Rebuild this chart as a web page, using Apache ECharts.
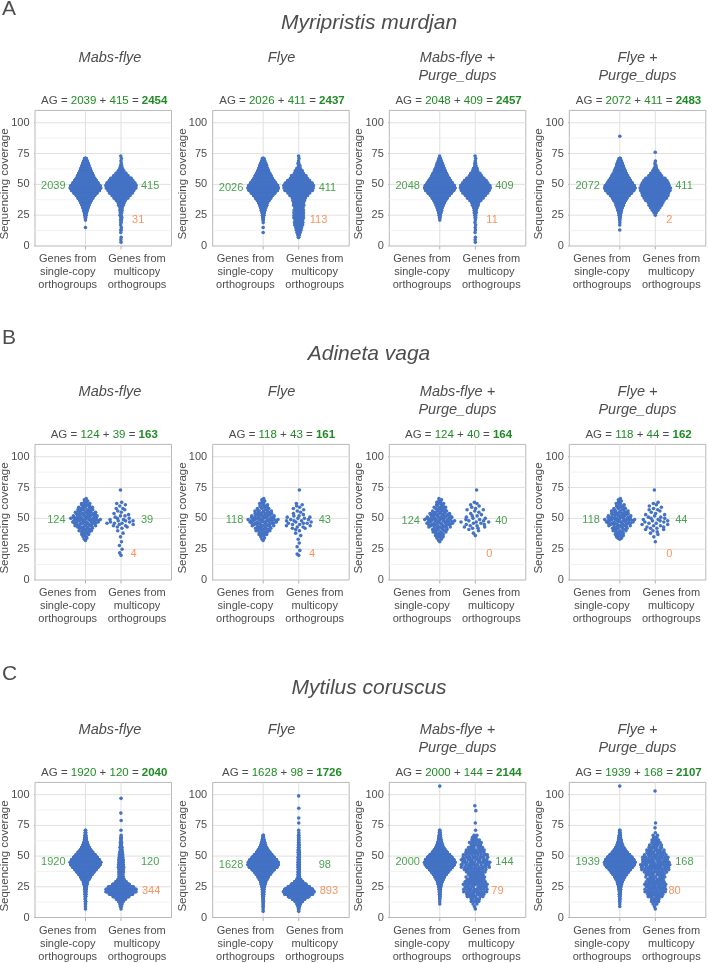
<!DOCTYPE html>
<html><head><meta charset="utf-8">
<script src="https://cdn.jsdelivr.net/npm/echarts@6.0.0/dist/echarts.min.js"></script>
<style>html,body{margin:0;padding:0;background:#fff}#c{width:708px;height:963px}</style>
</head><body><div id="c"></div><script>
// ---------------- data ----------------
const speciesNames = ['Myripristis murdjan', 'Adineta vaga', 'Mytilus coruscus'];
const sectionLetters = ['A', 'B', 'C'];
const assemblyNames = ['Mabs-flye', 'Flye', 'Mabs-flye +\nPurge_dups', 'Flye +\nPurge_dups'];
const groupNames = ['Genes from\nsingle-copy\northogroups', 'Genes from\nmulticopy\northogroups'];
const singleCopyN = [[2039, 2026, 2048, 2072], [124, 118, 124, 118], [1920, 1628, 2000, 1939]];
const multiCopyN = [[415, 411, 409, 411], [39, 43, 40, 44], [120, 98, 144, 168]];
const agTotals = [[2454, 2437, 2457, 2483], [163, 161, 164, 162], [2040, 1726, 2144, 2107]];
const lowCoverageN = [[31, 113, 11, 2], [4, 4, 0, 0], [344, 893, 79, 80]];
const yTickValues = [0, 25, 50, 75, 100];
const yMinorValues = [12.5, 37.5, 62.5, 87.5];
const groupPositions = [1, 2];

// coverage histograms: value of first bin, bin step, counts per bin, isolated points
const covA1s = { from: 15, step: 2, counts: [1,0,0,1,3,7,14,22,32,42,55,70,90,112,140,172,192,178,152,132,114,96,82,66,54,44,34,22,10], extra: [] };
const covA1m = { from: 3, step: 2, counts: [1,1,1,0,1,2,1,1,2,2,3,3,3,4,5,7,10,15,21,28,35,40,46,46,43,37,31,24,15,9,4,3,1,1,1,1], extra: [] };
const covA2s = { from: 11, step: 2, counts: [1,0,1,0,1,2,4,8,14,22,32,42,55,70,92,115,142,172,190,176,150,130,112,95,80,64,52,42,32,20,8], extra: [] };
const covA2m = { from: 7, step: 2, counts: [2,3,5,7,9,11,12,12,13,13,13,13,13,13,14,15,18,22,30,36,42,40,36,29,24,19,14,9,5,3,2,1,1,1], extra: [] };
const covA3s = { from: 21, step: 2, counts: [1,3,7,14,22,32,44,57,72,92,116,144,175,195,180,155,134,115,97,82,66,53,43,32,20,8,1], extra: [] };
const covA3m = { from: 3, step: 2, counts: [1,1,1,0,1,1,1,1,1,1,2,2,3,4,6,8,11,16,22,28,34,40,42,40,36,30,24,18,12,8,5,3,2,1,1,1], extra: [] };
const covA4s = { from: 13, step: 2, counts: [1,0,1,1,2,4,8,14,22,32,44,57,72,92,116,146,178,198,182,156,135,116,98,82,66,53,42,32,20,8], extra: [89] };
const covA4m = { from: 25, step: 2, counts: [1,4,9,13,17,19,25,31,33,36,39,40,38,34,32,25,18,12,7,4,2,1,1], extra: [76] };

const covB1s = { from: 32, step: 1, counts: [1,1,1,2,1,2,2,3,3,3,4,4,5,5,6,6,7,7,7,6,6,5,5,5,4,4,4,3,3,3,2,2,1,1,1], extra: [] };
const covB1m = { from: 20, step: 1, counts: [1,0,1,0,0,1,0,0,1,0,0,1,0,0,0,1,0,0,1,0,1,0,1,2,2,2,3,2,3,2,2,1,2,1,1,1,1,1,2,0,1,1,1,1], extra: [73] };
const covB2s = { from: 32, step: 1, counts: [1,1,1,1,2,2,2,3,3,4,4,4,5,5,6,6,7,7,6,6,5,5,4,4,4,3,3,3,2,2,2,1,1,1,1], extra: [] };
const covB2m = { from: 20, step: 1, counts: [1,1,0,0,1,0,0,1,0,0,1,0,0,1,0,0,1,0,1,0,1,1,2,2,2,2,3,2,3,2,2,2,2,1,1,1,1,1,1,1,1,1,1], extra: [73] };
const covB3s = { from: 31, step: 1, counts: [1,1,1,2,2,2,2,3,3,3,4,4,5,5,6,6,6,7,7,6,6,5,5,4,4,4,3,3,3,2,2,2,2,1,1,1], extra: [] };
const covB3m = { from: 36, step: 1, counts: [1,0,1,0,1,1,2,2,2,2,2,3,2,2,2,1,2,1,1,1,1,2,1,1,1,1,1,1], extra: [73] };
const covB4s = { from: 33, step: 1, counts: [1,2,2,2,2,2,3,3,3,4,4,5,5,6,6,7,7,6,6,5,5,4,4,4,3,3,3,2,2,2,1,1,1,1], extra: [] };
const covB4m = { from: 31, step: 1, counts: [1,0,0,0,1,0,1,1,1,1,2,2,2,2,2,2,2,3,2,2,2,1,2,1,1,1,2,1,1,1,1,1,1], extra: [73] };

const covC1s = { from: 7, step: 2, counts: [1,1,2,3,3,4,5,7,9,12,18,28,42,62,84,108,135,162,190,200,178,150,122,92,68,48,32,22,12,8,6,4,2], extra: [] };
const covC1m = { from: 7, step: 2, counts: [1,3,5,9,18,30,46,60,60,48,32,20,12,8,9,10,10,10,10,10,9,8,7,6,5,4,3,3,2,2,1], extra: [71,79,85,97] };
const covC2s = { from: 5, step: 2, counts: [1,1,2,2,3,4,5,6,8,10,14,20,28,40,56,75,95,120,150,170,165,145,120,95,72,54,38,26,17,10,5,2], extra: [] };
const covC2m = { from: 5, step: 2, counts: [1,3,7,17,35,60,100,140,155,140,105,70,40,20,6,6,7,7,7,7,7,6,6,6,5,5,4,4,3,3,2,2,1], extra: [71,77,81,89,99] };
const covC3s = { from: 11, step: 2, counts: [1,1,2,3,4,6,9,13,20,30,44,62,84,108,135,165,195,205,190,160,128,98,72,52,36,25,17,12,8,5,2], extra: [107] };
const covC3m = { from: 7, step: 2, counts: [1,1,2,4,5,7,9,10,11,11,10,9,8,8,7,8,10,12,13,13,12,11,10,9,8,7,6,5,4,3,2], extra: [71,77,87,91] };
const covC4s = { from: 9, step: 2, counts: [1,1,2,3,4,5,7,10,14,21,31,45,63,85,108,134,162,190,198,182,155,124,95,70,50,35,24,16,11,7,4,2], extra: [107] };
const covC4m = { from: 7, step: 2, counts: [1,1,3,4,5,7,9,10,11,11,10,9,8,9,10,11,13,14,15,14,13,12,11,10,8,7,6,5,4,3,2], extra: [69,73,77,103] };

const coverage = [
  [[covA1s, covA1m], [covA2s, covA2m], [covA3s, covA3m], [covA4s, covA4m]],
  [[covB1s, covB1m], [covB2s, covB2m], [covB3s, covB3m], [covB4s, covB4m]],
  [[covC1s, covC1m], [covC2s, covC2m], [covC3s, covC3m], [covC4s, covC4m]]
];

// ---------------- layout / style ----------------
const FONT = '"Liberation Sans", Arial, Helvetica, sans-serif';
const TXT = '#4d4d4d';
const GREEN = '#1f8b24', ORANGE = '#f5793a', BLUE = '#4472c4';
const GRID_MAJOR = '#e0e0e0', GRID_MINOR = '#efefef', BORDER = '#b8b8b8', TICK = '#b3b3b3';
const PANEL_LEFT = [35, 212.7, 389.3, 569.3];
const SUBTITLE_X = [110, 281.5, 457.5, 637.5];
const SEC_OFF = [0, 334, 672];
const PLOT_TOP = 110.4, PLOT_W = 136.5, PLOT_H = 135.6;
const X_MIN = -0.42, X_MAX = 3.42, Y_MAX = 110;
const X_PX = PLOT_W / (X_MAX - X_MIN), Y_PX = PLOT_H / Y_MAX;   // pixels per data unit
const TICK_LEN = 3.5;
const SWARM_W = 0.43;
const LETTER_Y = [9, 338.3, 674.3];
const TITLE_Y = [23.5, 354.5, 688.3];
const LOW_LABEL_X = [[2.31, 2.31, 2.31, 2.31], [2.27, 2.29, 2.31, 2.31], [2.59, 2.59, 2.45, 2.37]];

function vdc(n) { let v = 0, d = 1; while (n > 0) { d *= 2; v += (n % 2) / d; n = Math.floor(n / 2); } return v; }

function expand(g) {
  const vals = [];
  g.counts.forEach((c, i) => { const v = g.from + i * g.step; for (let k = 0; k < c; k++) vals.push(v); });
  g.extra.forEach(v => vals.push(v));
  return vals.sort((a, b) => a - b);
}

// quasirandom (van der Corput) swarm offsets scaled by density
function swarm(g, catX) {
  const vals = expand(g);
  const n = vals.length;
  const mean = vals.reduce((s, v) => s + v, 0) / n;
  const sd = Math.sqrt(vals.reduce((s, v) => s + (v - mean) * (v - mean), 0) / Math.max(1, n - 1));
  const q = p => vals[Math.floor(p * (n - 1))];
  const iqr = q(0.75) - q(0.25);
  let bw = 0.9 * Math.min(sd, iqr / 1.34 || sd) * Math.pow(n, -0.2) * 0.5;
  bw = Math.max(bw, g.step * 0.6);
  const uniq = new Map();
  vals.forEach(v => uniq.set(v, (uniq.get(v) || 0) + 1));
  const dens = new Map(); let maxD = 0;
  uniq.forEach((c, u) => {
    let s = 0;
    uniq.forEach((c2, u2) => { const z = (u - u2) / bw; s += c2 * Math.exp(-0.5 * z * z); });
    dens.set(u, s); if (s > maxD) maxD = s;
  });
  return vals.map((v, i) => [catX + (vdc(i + 1) - 0.5) * 2 * SWARM_W * dens.get(v) / maxD, v]);
}

function median(g) { const v = expand(g); return v[Math.floor(v.length / 2)]; }

function segment(p, pts, color, width, z) {
  return { type: 'line', xAxisIndex: p, yAxisIndex: p, data: pts, symbol: 'none', showSymbol: false,
    lineStyle: { color: color, width: width, type: 'solid' }, z: z, silent: true, animation: false, clip: false,
    emphasis: { disabled: true } };
}

const grids = [], xAxes = [], yAxes = [], series = [], graphics = [];

for (let s = 0; s < 3; s++) {
  graphics.push({ type: 'text', x: 2, y: LETTER_Y[s], style: { text: sectionLetters[s], font: '21px ' + FONT, fill: TXT, textAlign: 'left', textVerticalAlign: 'middle' } });
  graphics.push({ type: 'text', x: 369, y: TITLE_Y[s], style: { text: speciesNames[s], font: 'italic 21px ' + FONT, fill: TXT, textAlign: 'center', textVerticalAlign: 'middle' } });
  for (let j = 0; j < 4; j++) {
    const p = s * 4 + j;
    const top = PLOT_TOP + SEC_OFF[s];
    const left = PANEL_LEFT[j];
    grids.push({ left: left, top: top, width: PLOT_W, height: PLOT_H, show: true, borderColor: BORDER, borderWidth: 1 });
    xAxes.push({
      gridIndex: p, type: 'value', min: X_MIN, max: X_MAX,
      splitLine: { show: false }, axisLine: { show: false }, axisTick: { show: false },
      axisLabel: { customValues: [0.5, 2.45], formatter: v => (v < 1.5 ? groupNames[0] : groupNames[1]), color: TXT, fontSize: 11, lineHeight: 13, margin: 6.5, fontFamily: FONT }
    });
    yAxes.push({
      gridIndex: p, type: 'value', min: 0, max: Y_MAX, interval: 25,
      splitLine: { show: false }, axisLine: { show: false }, axisTick: { show: false },
      axisLabel: { customValues: yTickValues, formatter: v => (v > 100 ? '' : String(v)), color: TXT, fontSize: 11, margin: 5.5, fontFamily: FONT }
    });
    // grid lines and ticks drawn through the panel's own axes
    yMinorValues.forEach(v => series.push(segment(p, [[X_MIN, v], [X_MAX, v]], GRID_MINOR, 0.8, 1)));
    yTickValues.slice(1).forEach(v => series.push(segment(p, [[X_MIN, v], [X_MAX, v]], GRID_MAJOR, 1, 1)));
    groupPositions.forEach(v => series.push(segment(p, [[v, 0], [v, Y_MAX]], GRID_MAJOR, 1, 1)));
    yTickValues.forEach(v => series.push(segment(p, [[X_MIN - TICK_LEN / X_PX, v], [X_MIN, v]], TICK, 1, 1)));
    groupPositions.forEach(v => series.push(segment(p, [[v, 0], [v, -TICK_LEN / Y_PX]], TICK, 1, 1)));
    // points
    const [gs, gm] = coverage[s][j];
    const pts = swarm(gs, groupPositions[0]).concat(swarm(gm, groupPositions[1]));
    series.push({ type: 'scatter', xAxisIndex: p, yAxisIndex: p, data: pts, symbolSize: 3.6, z: 3, silent: true,
      large: false, progressive: 0, animation: false, itemStyle: { color: BLUE, opacity: 1 } });
    // count labels
    const my = median(gs);
    series.push({ type: 'scatter', xAxisIndex: p, yAxisIndex: p, symbolSize: 0, z: 4, silent: true, animation: false,
      label: { show: true, formatter: '{b}', fontSize: 11, fontFamily: FONT, distance: 0 },
      data: [
        { name: String(singleCopyN[s][j]), value: [0.44, my], label: { position: 'left', color: GREEN } },
        { name: String(multiCopyN[s][j]), value: [2.56, my], label: { position: 'right', color: GREEN } },
        { name: String(lowCoverageN[s][j]), value: [LOW_LABEL_X[s][j], 21.5], label: { position: 'right', color: ORANGE } }
      ] });
    // texts
    const cx = left + PLOT_W / 2;
    graphics.push({ type: 'text', x: SUBTITLE_X[j], y: 49.5 + SEC_OFF[s], style: { text: assemblyNames[j], font: 'italic 14.5px ' + FONT, lineHeight: 17.5, fill: TXT, textAlign: 'center', textVerticalAlign: 'top' } });
    graphics.push({ type: 'text', x: cx + 1, y: 100.5 + SEC_OFF[s], style: {
      text: '{a|AG = }{g|' + singleCopyN[s][j] + '}{a| + }{g|' + multiCopyN[s][j] + '}{a| = }{b|' + agTotals[s][j] + '}',
      textAlign: 'center', textVerticalAlign: 'middle',
      rich: {
        a: { fill: TXT, fontSize: 11.5, fontFamily: FONT },
        g: { fill: GREEN, fontSize: 11.5, fontFamily: FONT },
        b: { fill: GREEN, fontSize: 11.5, fontFamily: FONT, fontWeight: 'bold' }
      } } });
    graphics.push({ type: 'text', x: left - 30, y: 184 + SEC_OFF[s], rotation: Math.PI / 2, style: { text: 'Sequencing coverage', font: '11.5px ' + FONT, fill: TXT, textAlign: 'center', textVerticalAlign: 'middle' } });
  }
}

const chart = echarts.init(document.getElementById('c'), null, { renderer: 'canvas' });
chart.setOption({ animation: false, backgroundColor: '#fff', grid: grids, xAxis: xAxes, yAxis: yAxes, series: series, graphic: graphics });
</script></body></html>
